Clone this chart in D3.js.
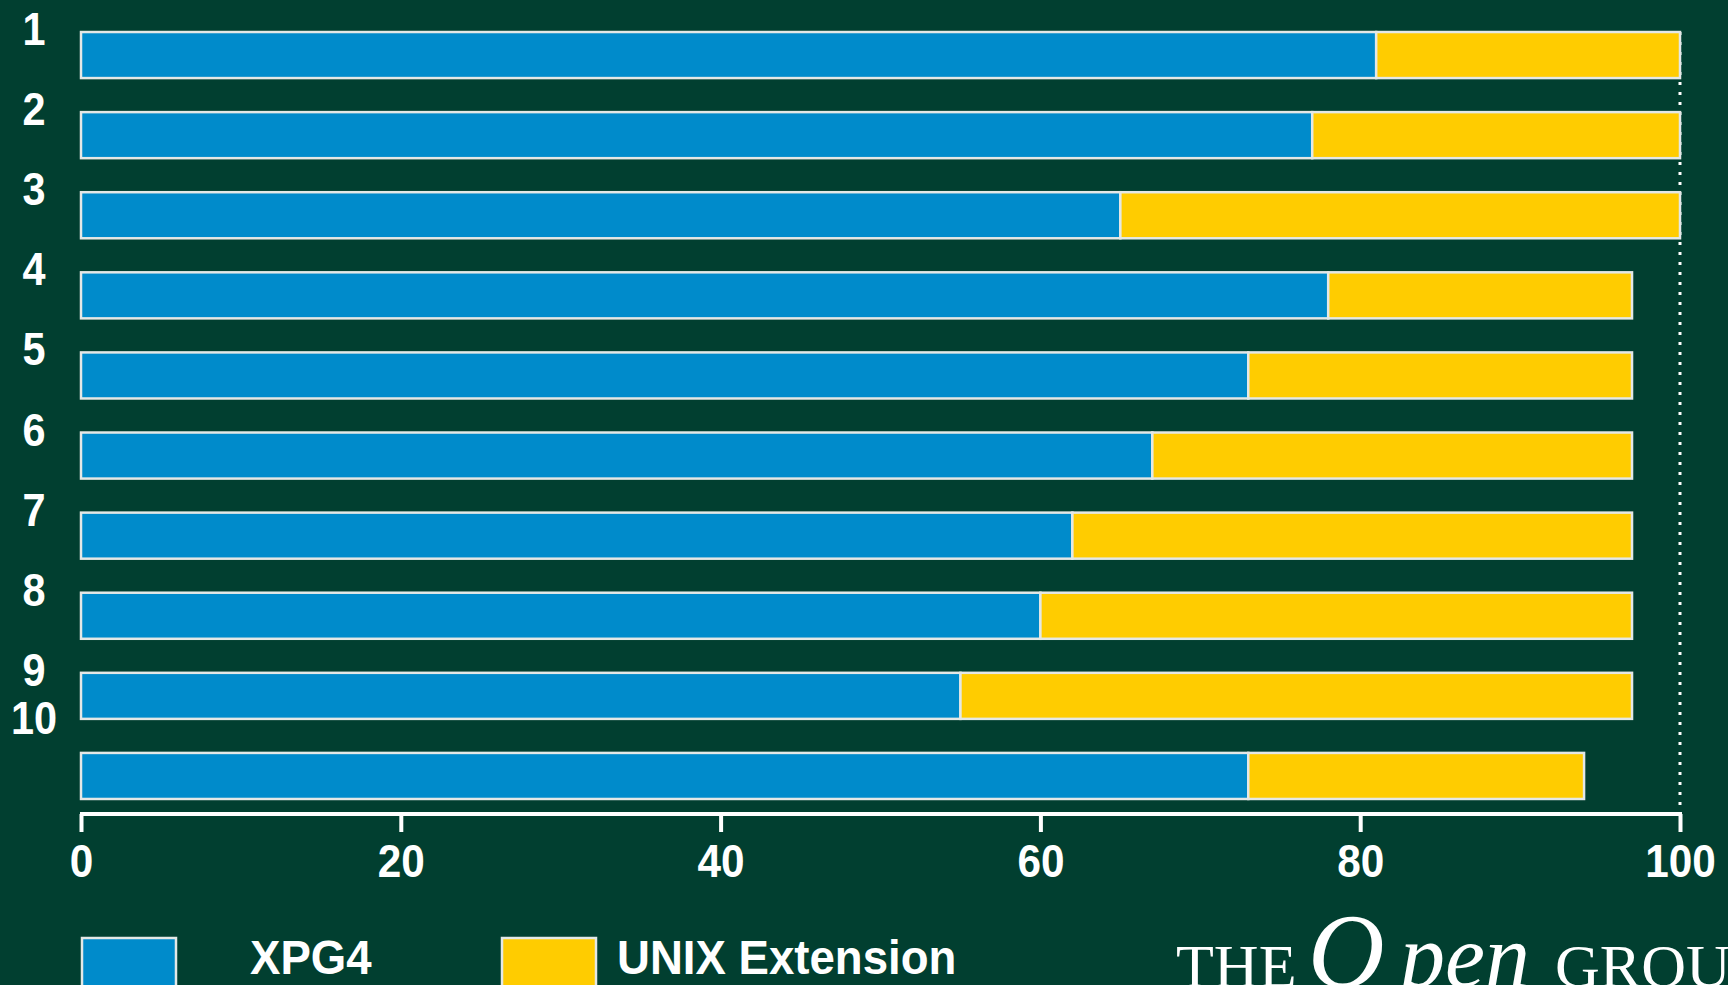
<!DOCTYPE html>
<html>
<head>
<meta charset="utf-8">
<script src="https://cdn.jsdelivr.net/npm/d3@7"></script>
<style>
  html, body { margin: 0; padding: 0; background: #013f30; overflow: hidden; }
  svg { display: block; }
</style>
</head>
<body>
<svg id="chart" width="1728" height="985"></svg>
<script>
// ---- data ----
const categories = ["1", "2", "3", "4", "5", "6", "7", "8", "9", "10"];
const xpg4 = [81, 77, 65, 78, 73, 67, 62, 60, 55, 73];
const unixExt = [19, 23, 35, 19, 24, 30, 35, 37, 42, 21];
const seriesNames = ["XPG4", "UNIX Extension"];
const xTicks = [0, 20, 40, 60, 80, 100];
const refLine = 100;

// ---- styles ----
const W = 1728, H = 985;
const bg = "#013f30";
const colors = ["#008bcb", "#ffcc00"];
const barStroke = "#e4e8e6";
const fontSans = "'Liberation Sans', Arial, Helvetica, sans-serif";
const fontSerif = "'Liberation Serif', 'Times New Roman', 'DejaVu Serif', serif";

const svg = d3.select("#chart");
svg.append("rect").attr("width", W).attr("height", H).attr("fill", bg);

const x = d3.scaleLinear().domain([0, 100]).range([81, 1680]);
const y = d3.scaleBand().domain(categories).range([15, 816])
  .paddingInner(0.425).paddingOuter(0.2125);

const rows = categories.map((c, i) => ({ c, a: xpg4[i], b: unixExt[i] }));

// reference dotted line at 100
svg.append("line")
  .attr("x1", x(refLine)).attr("x2", x(refLine))
  .attr("y1", y(categories[0])).attr("y2", 814)
  .attr("stroke", "#ffffff").attr("stroke-width", 3)
  .attr("stroke-dasharray", "3,7");

// bars
const g = svg.append("g");
g.selectAll("rect.a").data(rows).join("rect").attr("class", "a")
  .attr("x", d => x(0)).attr("y", d => y(d.c))
  .attr("width", d => x(d.a) - x(0)).attr("height", y.bandwidth())
  .attr("fill", colors[0]).attr("stroke", barStroke).attr("stroke-width", 2.5);
g.selectAll("rect.b").data(rows).join("rect").attr("class", "b")
  .attr("x", d => x(d.a)).attr("y", d => y(d.c))
  .attr("width", d => x(d.a + d.b) - x(d.a)).attr("height", y.bandwidth())
  .attr("fill", colors[1]).attr("stroke", barStroke).attr("stroke-width", 2.5);

// category labels (offset above bars, last one stacked under previous)
let prevBase = null;
categories.forEach((c, i) => {
  let base = y(c) + y.bandwidth() / 2 - 10;
  if (i === categories.length - 1 && prevBase !== null) base = prevBase + 48;
  prevBase = base;
  svg.append("text")
    .attr("transform", `translate(34,${base}) scale(0.9,1)`)
    .attr("text-anchor", "middle")
    .attr("fill", "#ffffff")
    .attr("font-family", fontSans).attr("font-weight", "bold")
    .attr("font-size", 46)
    .text(c);
});

// x axis
const axis = svg.append("g").attr("transform", "translate(0,814)")
  .call(d3.axisBottom(x).tickValues(xTicks).tickSize(18).tickSizeOuter(0));
axis.select(".domain").attr("stroke", "#ffffff").attr("stroke-width", 4)
  .attr("d", `M${x(0) - 1},0H${x(100) + 2}`);
axis.selectAll(".tick line").attr("stroke", "#ffffff").attr("stroke-width", 4);
axis.selectAll(".tick text")
  .attr("y", 63).attr("dy", 0)
  .attr("transform", "scale(0.9,1)")
  .attr("fill", "#ffffff")
  .attr("font-family", fontSans).attr("font-weight", "bold")
  .attr("font-size", 47);

// legend
const legendX = [82, 502];
const legendTextX = [250, 617];
seriesNames.forEach((name, i) => {
  svg.append("rect")
    .attr("x", legendX[i]).attr("y", 938)
    .attr("width", 94).attr("height", 60)
    .attr("fill", colors[i]).attr("stroke", barStroke).attr("stroke-width", 2.5);
  svg.append("text")
    .attr("transform", `translate(${legendTextX[i]},974) scale(0.95,1)`)
    .attr("fill", "#ffffff")
    .attr("font-family", fontSans).attr("font-weight", "bold")
    .attr("font-size", 48)
    .text(name);
});

// logo
const logo = svg.append("g").attr("fill", "#ffffff").attr("font-family", fontSerif);
logo.append("text").attr("x", 1176).attr("y", 987).attr("font-size", 62).text("THE");
logo.append("text").attr("x", 1308).attr("y", 987).attr("font-size", 106)
  .attr("font-style", "italic").text("O");
logo.append("text").attr("x", 1400).attr("y", 987).attr("font-size", 90)
  .attr("font-style", "italic").text("pen");
logo.append("text").attr("x", 1555).attr("y", 987).attr("font-size", 62).text("GROUP");
</script>
</body>
</html>
